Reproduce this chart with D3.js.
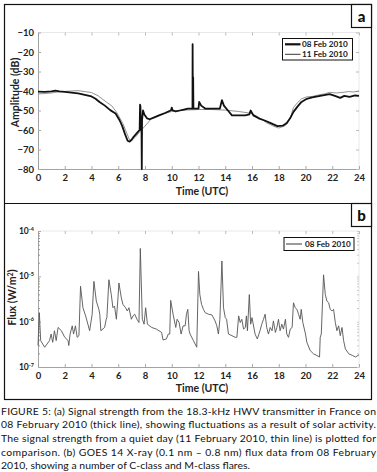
<!DOCTYPE html>
<html><head><meta charset="utf-8">
<script src="https://cdn.jsdelivr.net/npm/d3@7"></script>
<style>body{margin:0;background:#fff}svg{display:block}</style>
</head><body><svg id="c" width="377" height="472"></svg>
<script>
// ---------- data ----------
const xTicks = [0,2,4,6,8,10,12,14,16,18,20,22,24];
const ampTicks = [-10,-20,-30,-40,-50,-60,-70,-80];
const fluxExps = [-4,-5,-6,-7];
const legendA = ["08 Feb 2010","11 Feb 2010"];
const legendB = ["08 Feb 2010"];

// 08 Feb 2010 amplitude (thick)
const timeThick = [0,0.5,1.0,1.3,1.6,2.0,2.5,3.0,3.5,4.0,4.3,4.6,5.0,5.4,5.8,6.1,6.3,6.5,6.7,6.85,7.0,7.15,7.47,7.6,7.63,7.66,7.68,7.7,7.74,7.76,7.78,7.85,7.95,8.15,8.35,8.7,9.1,9.5,9.95,10.0,10.05,10.3,10.6,10.9,11.2,11.55,11.56,11.58,11.6,11.62,12.0,12.05,12.2,12.5,13.0,13.6,13.75,13.9,14.2,14.5,15.0,15.5,15.8,15.9,16.1,16.5,16.9,17.4,17.9,18.3,18.6,18.85,19.1,19.4,19.7,20.1,20.5,21.1,21.5,21.8,22.2,22.6,22.9,23.3,23.7,24];
const ampThick = [-40.3,-40.5,-40.2,-39.8,-40.2,-40.5,-40.8,-41.2,-42.0,-42.8,-44,-45.6,-47.5,-49.8,-51.5,-55,-58,-62,-65.5,-66,-65,-63.5,-61,-60,-47,-48,-58,-60,-60,-80,-55,-50,-52,-54,-54.5,-53.5,-52.4,-51.3,-49.9,-48.5,-49.8,-50.5,-50,-49.5,-49,-49,-16,-49,-33,-49,-49,-45.6,-47.5,-49,-49,-49,-44.7,-47.5,-50,-52.5,-52.5,-52.5,-52,-50,-52.5,-54,-55,-56.5,-58,-57.8,-56.4,-54,-50.7,-48,-45.6,-44,-43.3,-42.5,-42,-41.6,-42.5,-43.5,-42.5,-43,-42.3,-42.5];

// 11 Feb 2010 amplitude (thin)
const timeThin = [0,0.5,1.0,1.5,2.0,2.5,3.0,3.5,4.0,4.5,5.1,5.5,5.86,6.35,6.6,6.9,7.3,7.6,8.0,8.5,9.0,10.0,11.0,12.0,13.0,14.0,15.0,16.0,16.5,17.1,17.6,18.0,18.4,18.6,18.9,19.1,19.4,19.7,20.1,20.5,21.0,21.4,21.8,22.3,22.8,23.2,23.6,24];
const ampThin = [-41.5,-41.3,-41,-40.5,-40.2,-40,-39.8,-40.3,-40.8,-42.5,-45.6,-47.5,-50.7,-56.7,-61,-66,-63.5,-61,-58,-54,-52.5,-50.5,-49.8,-49.5,-49.5,-49.8,-50.5,-51.5,-53.5,-56.3,-58,-59,-58,-57,-53,-48.5,-46,-44,-43,-42.8,-42,-41.5,-40.7,-41,-40.7,-40.3,-40.5,-40];

// GOES 14 X-ray flux, 08 Feb 2010 (W/m^2)
const timeFlux = [0.0,0.1,0.2,0.5,0.86,0.98,1.1,1.23,1.36,1.5,1.75,2.0,2.25,2.3,2.4,2.56,2.66,2.8,2.93,3.06,3.18,3.36,3.56,3.73,3.86,4.05,4.18,4.36,4.55,4.62,4.7,4.98,5.1,5.15,5.3,5.48,5.6,5.72,5.86,5.98,6.05,6.23,6.35,6.55,6.68,6.8,6.98,7.1,7.23,7.4,7.55,7.65,7.8,7.93,8.05,8.18,8.5,8.85,9.24,9.35,9.6,9.74,9.85,9.92,10.1,10.3,10.4,10.55,10.7,10.85,11.0,11.1,11.2,11.3,11.37,11.62,11.87,12.0,12.1,12.23,12.37,12.5,12.74,13.0,13.24,13.37,13.49,13.6,13.75,13.87,14.0,14.1,14.24,14.5,14.74,14.87,15.0,15.12,15.24,15.37,15.5,15.58,15.66,15.8,15.9,16.0,16.23,16.4,16.6,16.73,16.86,16.98,17.1,17.23,17.36,17.5,17.6,17.75,17.86,17.98,18.1,18.23,18.35,18.5,18.6,18.73,18.86,19.0,19.1,19.23,19.36,19.48,19.6,19.68,19.8,20.0,20.1,20.35,20.6,20.85,21.05,21.1,21.18,21.35,21.48,21.6,21.73,21.85,21.98,22.1,22.23,22.35,22.48,22.6,22.73,22.85,22.98,23.24,23.5,23.74,24.0];
const flux = [2.97e-7,1.58e-6,3.82e-7,2.73e-7,3.82e-7,5.33e-7,3.51e-7,6.31e-7,3.82e-7,7.45e-7,6.31e-7,4.51e-7,3.82e-7,2.97e-7,5.33e-7,8.09e-7,5.33e-7,8.09e-7,4.51e-7,4.91e-7,6.03e-6,2.03e-6,1.34e-6,8.8e-7,6.31e-7,1.46e-6,7.75e-6,2.84e-6,1.87e-6,1.46e-6,6.31e-7,7.45e-7,1.13e-6,1.23e-6,8.41e-6,3.96e-6,2.03e-6,2.21e-6,1.13e-6,3.36e-6,7.13e-6,3.36e-6,2.40e-6,2.03e-6,1.72e-6,2.03e-6,1.13e-6,1.34e-6,1.46e-6,1.13e-6,9.57e-7,4.12e-5,1.13e-6,8.8e-7,2.03e-6,8.8e-7,7.45e-7,6.86e-7,5.80e-7,3.95e-7,4.15e-7,5.33e-7,5.33e-7,2.94e-6,1.46e-6,7.45e-7,1.13e-6,9.57e-7,5.33e-7,8.09e-7,8.09e-7,1.46e-6,1.87e-6,6.31e-7,5.33e-7,3.82e-7,2.73e-7,1.28e-5,3.96e-6,2.40e-6,1.87e-6,1.58e-6,1.46e-6,1.41e-6,1.04e-6,8.09e-7,5.33e-7,1.13e-6,2.18e-5,2.03e-6,1.23e-6,1.13e-6,5.33e-7,4.91e-7,4.51e-7,4.51e-7,1.34e-6,9.57e-7,1.13e-6,6.86e-7,7.45e-7,1.34e-6,6.31e-7,3.96e-6,8.8e-7,1.23e-6,5.33e-7,4.15e-7,6.31e-7,8.8e-7,1.13e-6,1.46e-6,7.45e-7,5.33e-7,7.45e-7,6.31e-7,1.04e-6,5.80e-7,7.45e-7,1.13e-6,6.31e-7,8.8e-7,6.86e-7,1.13e-6,5.33e-7,4.51e-7,6.86e-7,7.45e-7,2.61e-6,2.03e-6,1.87e-6,1.46e-6,1.13e-6,1.87e-6,9.57e-7,5.33e-7,3.51e-7,2.31e-7,1.95e-7,1.80e-7,1.66e-7,4.51e-7,5.33e-7,1.08e-5,3.96e-6,2.84e-6,2.61e-6,1.87e-6,1.72e-6,1.87e-6,9.57e-7,6.31e-7,8.09e-7,4.91e-7,7.45e-7,3.82e-7,2.51e-7,1.95e-7,1.80e-7,1.66e-7,1.86e-7];

const captionLines = [
  "FIGURE 5: (a) Signal strength from the 18.3-kHz HWV transmitter in France on",
  "08 February 2010 (thick line), showing fluctuations as a result of solar activity.",
  "The signal strength from a quiet day (11 February 2010, thin line) is plotted for",
  "comparison. (b) GOES 14 X-ray (0.1 nm \u2013 0.8 nm) flux data from 08 February",
  "2010, showing a number of C-class and M-class flares."
];

// ---------- drawing ----------
const svg = d3.select("#c");
const FONT = "Lato, 'Open Sans', sans-serif";
const TXT = "#222";

const X0 = 38, X1 = 359;
const x = d3.scaleLinear().domain([0,24]).range([X0,X1]);
const yA = d3.scaleLinear().domain([-80,-10]).range([169,32.5]);
const yB = d3.scaleLog().domain([1e-7,1e-4]).range([367,231]);

// outer boxes
svg.append("rect").attr("x",4.5).attr("y",4.5).attr("width",367).attr("height",395)
  .attr("fill","none").attr("stroke","#111").attr("stroke-width",1.2);
svg.append("line").attr("x1",4.5).attr("x2",371.5).attr("y1",203.5).attr("y2",203.5)
  .attr("stroke","#111").attr("stroke-width",1.2);
[["a",4.5],["b",203.5]].forEach(([t,y0])=>{
  svg.append("rect").attr("x",351.5).attr("y",y0).attr("width",20).attr("height",23)
    .attr("fill","#fff").attr("stroke","#111").attr("stroke-width",1.2);
  svg.append("text").attr("x",361.5).attr("y",y0+17).attr("text-anchor","middle")
    .attr("font-family",FONT).attr("font-weight","900").attr("font-size",15).attr("fill","#111").text(t);
});

function frame(g, yTop, yBot){
  g.append("line").attr("x1",X0).attr("x2",X1).attr("y1",yTop).attr("y2",yTop).attr("stroke","#e2e2e2").attr("stroke-width",0.8);
  g.append("line").attr("x1",X1).attr("x2",X1).attr("y1",yTop).attr("y2",yBot).attr("stroke","#e2e2e2").attr("stroke-width",0.8);
}

// ---- panel a ----
const gA = svg.append("g");
frame(gA, yA(-10), yA(-80));
const axA = gA.append("g").attr("transform",`translate(0,${yA(-80)})`)
  .call(d3.axisBottom(x).tickValues(xTicks).tickSizeInner(-3).tickSizeOuter(0).tickPadding(5));
gA.append("g").attr("transform",`translate(0,${yA(-10)})`)
  .call(d3.axisTop(x).tickValues(xTicks).tickSizeInner(-3).tickSizeOuter(0).tickFormat(""))
  .call(g=>{g.select(".domain").remove(); g.selectAll("line").attr("stroke","#bbb");});
const ayA = gA.append("g").attr("transform",`translate(${X0},0)`)
  .call(d3.axisLeft(yA).tickValues(ampTicks).tickSizeInner(-3).tickSizeOuter(0).tickPadding(4));
gA.append("g").attr("transform",`translate(${X1},0)`)
  .call(d3.axisRight(yA).tickValues(ampTicks).tickSizeInner(-3).tickSizeOuter(0).tickFormat(""))
  .call(g=>{g.select(".domain").remove(); g.selectAll("line").attr("stroke","#bbb");});

[axA, ayA].forEach(a=>{
  a.select(".domain").attr("stroke","#999").attr("stroke-width",0.9);
  a.selectAll(".tick line").attr("stroke","#aaa");
  a.selectAll("text").attr("font-family",FONT).attr("font-weight","bold").attr("font-size",9.5).attr("fill",TXT);
});

const lineA = (ts, vs) => d3.line().x((d,i)=>x(ts[i])).y((d,i)=>yA(vs[i]))(vs);
gA.append("path").attr("d",lineA(timeThin,ampThin)).attr("fill","none").attr("stroke","#777").attr("stroke-width",0.8);
gA.append("path").attr("d",lineA(timeThick,ampThick)).attr("fill","none").attr("stroke","#111").attr("stroke-width",1.8).attr("stroke-linejoin","round");

gA.append("text").attr("x",202).attr("y",195).attr("text-anchor","middle")
  .attr("font-family",FONT).attr("font-weight","bold").attr("font-size",10.5).attr("fill",TXT).text("Time (UTC)");
gA.append("text").attr("transform","translate(19,92.5) rotate(-90)").attr("text-anchor","middle")
  .attr("font-family",FONT).attr("font-weight","bold").attr("font-size",10.5).attr("fill",TXT).text("Amplitude (dB)");

// legend a
const legA = gA.append("g");
legA.append("rect").attr("x",282.5).attr("y",38.5).attr("width",70).attr("height",21.5)
  .attr("fill","#fff").attr("stroke","#111").attr("stroke-width",1);
legendA.forEach((t,i)=>{
  const yy = 44.3 + i*10;
  legA.append("line").attr("x1",285).attr("x2",300.5).attr("y1",yy).attr("y2",yy)
    .attr("stroke", i===0?"#111":"#222").attr("stroke-width", i===0?2.2:0.9);
  legA.append("text").attr("x",302).attr("y",yy+3).attr("font-family",FONT).attr("font-weight","bold")
    .attr("font-size",8.2).attr("fill",TXT).text(t);
});

// ---- panel b ----
const gB = svg.append("g");
frame(gB, yB(1e-4), yB(1e-7));
const axB = gB.append("g").attr("transform",`translate(0,${yB(1e-7)})`)
  .call(d3.axisBottom(x).tickValues(xTicks).tickSizeInner(-3).tickSizeOuter(0).tickPadding(5));
gB.append("g").attr("transform",`translate(0,${yB(1e-4)})`)
  .call(d3.axisTop(x).tickValues(xTicks).tickSizeInner(-3).tickSizeOuter(0).tickFormat(""))
  .call(g=>{g.select(".domain").remove(); g.selectAll("line").attr("stroke","#bbb");});
const minorVals = [];
[-7,-6,-5].forEach(e=>{ for(let k=2;k<=9;k++) minorVals.push(k*Math.pow(10,e)); });
const majorVals = fluxExps.map(e=>Math.pow(10,e));
const ayB = gB.append("g").attr("transform",`translate(${X0},0)`)
  .call(d3.axisLeft(yB).tickValues(majorVals).tickSizeInner(-3).tickSizeOuter(0).tickFormat(""));
gB.append("g").attr("transform",`translate(${X0},0)`)
  .call(d3.axisLeft(yB).tickValues(minorVals).tickSizeInner(-2).tickSizeOuter(0).tickFormat(""))
  .call(g=>{g.select(".domain").remove(); g.selectAll("line").attr("stroke","#999");});
gB.append("g").attr("transform",`translate(${X1},0)`)
  .call(d3.axisRight(yB).tickValues(majorVals.concat(minorVals)).tickSizeInner(-2).tickSizeOuter(0).tickFormat(""))
  .call(g=>{g.select(".domain").remove(); g.selectAll("line").attr("stroke","#ccc");});
[axB, ayB].forEach(a=>{
  a.select(".domain").attr("stroke","#999").attr("stroke-width",0.9);
  a.selectAll(".tick line").attr("stroke","#aaa");
  a.selectAll("text").attr("font-family",FONT).attr("font-weight","bold").attr("font-size",9.5).attr("fill",TXT);
});
fluxExps.forEach(e=>{
  const t = gB.append("text").attr("x",X0-4).attr("y",yB(Math.pow(10,e))+3).attr("text-anchor","end")
    .attr("font-family",FONT).attr("font-weight","bold").attr("font-size",8.5).attr("fill",TXT);
  t.append("tspan").text("10");
  t.append("tspan").attr("dy",-3.5).attr("font-size",5.5).text(String(e));
});

const lineB = d3.line().x((d,i)=>x(timeFlux[i])).y((d,i)=>yB(flux[i]));
gB.append("path").attr("d",lineB(flux)).attr("fill","none").attr("stroke","#555").attr("stroke-width",0.9).attr("stroke-linejoin","round");

gB.append("text").attr("x",202).attr("y",392).attr("text-anchor","middle")
  .attr("font-family",FONT).attr("font-weight","bold").attr("font-size",10.5).attr("fill",TXT).text("Time (UTC)");
const ft = gB.append("text").attr("transform","translate(16,297.5) rotate(-90)").attr("text-anchor","middle")
  .attr("font-family",FONT).attr("font-weight","bold").attr("font-size",10.5).attr("fill",TXT);
ft.append("tspan").text("Flux (W/m");
ft.append("tspan").attr("dy",-3.5).attr("font-size",7).text("2");
ft.append("tspan").attr("dy",3.5).text(")");

// legend b
const legB = gB.append("g");
legB.append("rect").attr("x",284).attr("y",237.5).attr("width",70).attr("height",13)
  .attr("fill","#fff").attr("stroke","#111").attr("stroke-width",1);
legendB.forEach((t,i)=>{
  const yy = 244;
  legB.append("line").attr("x1",286).attr("x2",302).attr("y1",yy).attr("y2",yy).attr("stroke","#222").attr("stroke-width",0.9);
  legB.append("text").attr("x",305).attr("y",yy+3).attr("font-family",FONT).attr("font-weight","bold")
    .attr("font-size",8.2).attr("fill",TXT).text(t);
});

// ---- caption ----
captionLines.forEach((t,i)=>{
  const tx = svg.append("text").attr("x",1).attr("y",414.5 + i*13.7)
    .attr("font-family",FONT).attr("font-size",10.4).attr("fill","#111").text(t);
  if(i<4) tx.attr("textLength",375).attr("lengthAdjust","spacing");
  else tx.attr("textLength",249).attr("lengthAdjust","spacing");
});
</script></body></html>
